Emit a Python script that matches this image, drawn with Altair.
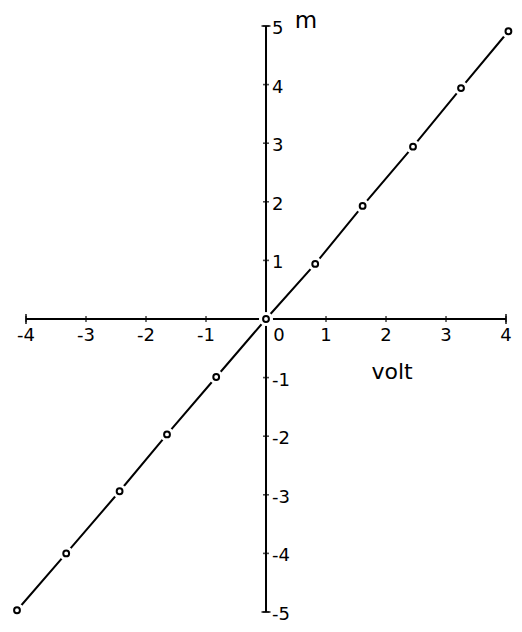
import altair as alt
import pandas as pd

# measured points
volt = [-4.15, -3.33, -2.44, -1.65, -0.83, 0.0, 0.82, 1.61, 2.45, 3.25, 4.04]
m_vals = [-4.97, -4.0, -2.94, -1.97, -0.99, 0.0, 0.94, 1.93, 2.94, 3.94, 4.91]

x_ticks = [-4, -3, -2, -1, 1, 2, 3, 4]
x_tick_labels = ["-4", "-3", "-2", "-1", "1", "2", "3", "4"]
y_ticks = [-5, -4, -3, -2, -1, 1, 2, 3, 4, 5]
y_tick_labels = ["-5", "-4", "-3", "-2", "-1", "1", "2", "3", "4", "5"]
x_ends = [-4, 4]
y_ends = [-5, 5]

FONT = "DejaVu Sans"

pts = pd.DataFrame({"volt": volt, "m": m_vals})
xt = pd.DataFrame({"v": x_ticks, "lab": x_tick_labels})
yt = pd.DataFrame({"v": y_ticks, "lab": y_tick_labels})
xe = pd.DataFrame({"v": x_ends})
ye = pd.DataFrame({"v": y_ends})

xs = alt.Scale(domain=[-4.3, 4.133], nice=False, zero=False)
ys = alt.Scale(domain=[-5.205, 5.307], nice=False, zero=False)

def X(f):
    return alt.X(f, type="quantitative", scale=xs, axis=None)

def Y(f):
    return alt.Y(f, type="quantitative", scale=ys, axis=None)

def XD(v):
    return alt.XDatum(v, scale=xs, axis=None)

def YD(v):
    return alt.YDatum(v, scale=ys, axis=None)

base_one = pd.DataFrame({"a": [0]})

x_axis = alt.Chart(base_one).mark_rule(color="black", strokeWidth=2).encode(
    x=XD(-4), x2=alt.X2Datum(4), y=YD(0))
y_axis = alt.Chart(base_one).mark_rule(color="black", strokeWidth=2).encode(
    y=YD(-5), y2=alt.Y2Datum(5), x=XD(0))

x_tk = alt.Chart(xt).mark_tick(orient="vertical", size=6, thickness=1.6, color="black").encode(
    x=X("v"), y=YD(0))
y_tk = alt.Chart(yt).mark_tick(orient="horizontal", size=6, thickness=1.6, color="black").encode(
    y=Y("v"), x=XD(0))
x_end = alt.Chart(xe).mark_tick(orient="vertical", size=10, thickness=2, color="black").encode(
    x=X("v"), y=YD(0))
y_end = alt.Chart(ye).mark_tick(orient="horizontal", size=9, thickness=2, color="black").encode(
    y=Y("v"), x=XD(0))

line = alt.Chart(pts).mark_line(color="black", strokeWidth=2).encode(
    x=X("volt"), y=Y("m"))
halo = alt.Chart(pts).mark_point(shape="circle", filled=True, color="white", opacity=1, size=200).encode(
    x=X("volt"), y=Y("m"))
circ = alt.Chart(pts).mark_point(shape="circle", filled=False, color="black", opacity=1,
                                 size=34, strokeWidth=2).encode(
    x=X("volt"), y=Y("m"))

x_lab = alt.Chart(xt).mark_text(font=FONT, fontSize=18, dy=17, baseline="middle", color="black").encode(
    x=X("v"), y=YD(0), text="lab:N")
y_lab = alt.Chart(yt).mark_text(font=FONT, fontSize=18, dx=6, dy=3, align="left",
                                baseline="middle", color="black").encode(
    y=Y("v"), x=XD(0), text="lab:N")
zero_lab = alt.Chart(base_one).mark_text(font=FONT, fontSize=18, dx=13, dy=17,
                                         baseline="middle", color="black", text="0").encode(
    x=XD(0), y=YD(0))
m_lab = alt.Chart(base_one).mark_text(font=FONT, fontSize=23, dx=40, dy=-5,
                                      baseline="middle", color="black", text="m").encode(
    x=XD(0), y=YD(5))
volt_lab = alt.Chart(base_one).mark_text(font=FONT, fontSize=22, baseline="middle",
                                         color="black", text="volt").encode(
    x=XD(2.1), y=YD(-0.9))

chart = alt.layer(
    x_axis, y_axis, x_tk, y_tk, x_end, y_end, line, halo, circ,
    x_lab, y_lab, zero_lab, m_lab, volt_lab
).properties(
    width=506, height=616,
    autosize=alt.AutoSizeParams(type="none"),
    padding=0,
    background="white",
).configure_view(stroke=None)

chart.save("out.html", embed_options={"renderer": "svg", "actions": False})
